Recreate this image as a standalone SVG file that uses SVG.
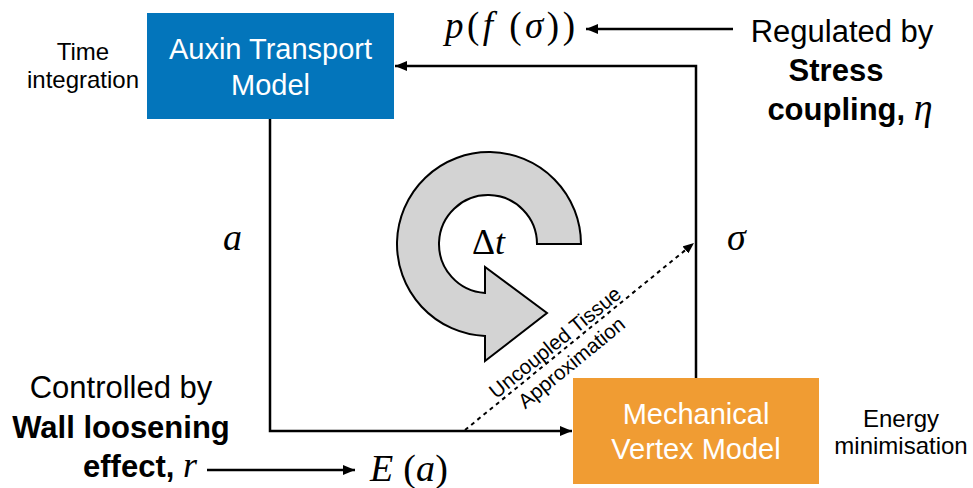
<svg xmlns="http://www.w3.org/2000/svg" width="973" height="488" viewBox="0 0 973 488">
  <style>
    .sans { font-family: "Liberation Sans", Arial, sans-serif; fill: #000; }
    .box-label { font-family: "Liberation Sans", Arial, sans-serif; font-size: 29px; fill: #fff; text-anchor: middle; }
    .side { font-size: 24px; text-anchor: middle; }
    .note { font-size: 31px; text-anchor: middle; }
    .bold { font-weight: bold; }
    .math { font-family: "Liberation Serif", "Times New Roman", serif; font-style: italic; fill: #000; }
    .upright { font-style: normal; }
    .wire { fill: none; stroke: #000; stroke-width: 2.5; }
    .dash { fill: none; stroke: #000; stroke-width: 2; stroke-dasharray: 4 4; }
  </style>
  <defs>
    <marker id="head" markerUnits="userSpaceOnUse" markerWidth="12" markerHeight="10" refX="12" refY="5" orient="auto">
      <path d="M0,0 L12,5 L0,10 Z" fill="#000"/>
    </marker>
    <marker id="head-small" markerUnits="userSpaceOnUse" markerWidth="11" markerHeight="9" refX="11" refY="4.5" orient="auto">
      <path d="M0,0 L11,4.5 L0,9 Z" fill="#000"/>
    </marker>
  </defs>

  <rect width="973" height="488" fill="#fff"/>

  <!-- connectors -->
  <g id="connectors">
    <polyline class="wire" points="270,119 270,431 572,431" marker-end="url(#head)"/>
    <polyline class="wire" points="696,378 696,66 395,66" marker-end="url(#head)"/>
    <line class="wire" x1="733" y1="29" x2="586" y2="29" marker-end="url(#head)" stroke-width="2"/>
    <line class="wire" x1="207" y1="470" x2="355" y2="470" marker-end="url(#head)" stroke-width="2"/>
    <line class="dash" x1="465" y1="430" x2="694" y2="243" marker-end="url(#head-small)"/>
  </g>

  <!-- model nodes -->
  <g id="auxin-transport">
    <rect x="147" y="13" width="247" height="106" fill="#0375BB"/>
    <text class="box-label" x="270.5" y="59">Auxin Transport</text>
    <text class="box-label" x="270.5" y="95">Model</text>
  </g>

  <g id="mechanical-vertex">
    <rect x="573" y="378" width="246" height="106" fill="#F09C33"/>
    <text class="box-label" x="696" y="424">Mechanical</text>
    <text class="box-label" x="696" y="459">Vertex Model</text>
  </g>

  <!-- time-step loop arrow -->
  <g id="time-step">
    <path d="M581,244 A92,92 0 1,0 485,336 L485,361 L547,313 L485,267 L485,293 A49,49 0 1,1 537,244 Z"
          fill="#D3D3D3" stroke="#000" stroke-width="2" stroke-linejoin="miter"/>
    <text class="math" x="472" y="254" font-size="35" textLength="33" lengthAdjust="spacingAndGlyphs"><tspan class="upright">Δ</tspan>t</text>
  </g>

  <!-- side annotations -->
  <g id="time-integration">
    <text class="sans side" x="83" y="60">Time</text>
    <text class="sans side" x="83" y="88">integration</text>
  </g>

  <g id="energy-minimisation">
    <text class="sans side" x="901" y="427">Energy</text>
    <text class="sans side" x="901" y="454">minimisation</text>
  </g>

  <g id="stress-coupling">
    <text class="sans note" x="842" y="42">Regulated by</text>
    <text class="sans note bold" x="836" y="81">Stress</text>
    <text class="sans note bold" x="850" y="120">coupling, <tspan class="math" font-weight="normal" font-size="38">η</tspan></text>
  </g>

  <g id="wall-loosening">
    <text class="sans note" x="121" y="398">Controlled by</text>
    <text class="sans note bold" x="121" y="438">Wall loosening</text>
    <text class="sans note bold" x="140" y="477">effect, <tspan class="math" font-weight="normal" font-size="36">r</tspan></text>
  </g>

  <!-- quantities passed between models -->
  <g id="quantities">
    <text class="math" x="445" y="38" font-size="37" textLength="130" lengthAdjust="spacing">p<tspan class="upright">(</tspan>f<tspan class="upright"> (</tspan>σ<tspan class="upright">))</tspan></text>
    <text class="math" x="223" y="250" font-size="38">a</text>
    <text class="math" x="727" y="250" font-size="38">σ</text>
    <text class="math" x="370" y="481" font-size="38" textLength="78" lengthAdjust="spacing">E<tspan class="upright"> (</tspan>a<tspan class="upright">)</tspan></text>
  </g>

  <!-- label on the dashed link -->
  <g id="uncoupled-label" transform="translate(562,351) rotate(-39.2)">
    <text class="sans" x="0" y="-4" font-size="20.5" text-anchor="middle">Uncoupled Tissue</text>
    <text class="sans" x="0" y="22" font-size="20.5" text-anchor="middle">Approximation</text>
  </g>
</svg>
